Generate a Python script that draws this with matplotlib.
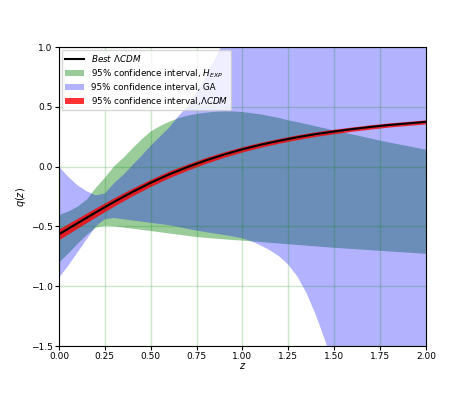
import numpy as np
import matplotlib.pyplot as plt

# redshift grid for the confidence bands (every 0.05)
z_band = np.round(np.arange(0, 2.0001, 0.05), 2)

# 95% CI from H_EXP
hexp_hi = [-0.40, -0.37, -0.33, -0.27, -0.17, -0.085, 0.01, 0.08, 0.16, 0.235,
           0.30, 0.345, 0.38, 0.41, 0.43, 0.445, 0.455, 0.463, 0.467, 0.465,
           0.46, 0.45, 0.44, 0.425, 0.41, 0.39, 0.375, 0.358, 0.34, 0.323,
           0.305, 0.288, 0.272, 0.255, 0.238, 0.22, 0.205, 0.19, 0.175, 0.16,
           0.145]
hexp_lo = [-0.795, -0.72, -0.64, -0.565, -0.505, -0.49, -0.495, -0.505, -0.515, -0.525,
           -0.535, -0.545, -0.555, -0.565, -0.575, -0.585, -0.592, -0.598, -0.604, -0.61,
           -0.615, -0.621, -0.627, -0.633, -0.639, -0.645, -0.651, -0.657, -0.663, -0.669,
           -0.675, -0.68, -0.685, -0.69, -0.695, -0.70, -0.705, -0.71, -0.715, -0.72,
           -0.725]

# 95% CI from GA
ga_hi = [0.0, -0.085, -0.155, -0.205, -0.24, -0.225, -0.14, -0.07, 0.01, 0.09,
         0.175, 0.25, 0.325, 0.42, 0.50, 0.62, 0.75, 0.90, 1.05, 1.2,
         1.35, 1.5, 1.65, 1.8, 1.95, 2.1, 2.25, 2.4, 2.55, 2.7,
         2.85, 3.0, 3.15, 3.3, 3.45, 3.6, 3.75, 3.9, 4.05, 4.2,
         4.35]
ga_lo = [-0.93, -0.83, -0.72, -0.61, -0.50, -0.44, -0.43, -0.44, -0.45, -0.46,
         -0.47, -0.48, -0.49, -0.505, -0.52, -0.535, -0.548, -0.56, -0.572, -0.585,
         -0.60, -0.625, -0.66, -0.70, -0.75, -0.82, -0.92, -1.06, -1.24, -1.45,
         -1.70, -1.98, -2.3, -2.65, -3.0, -3.4, -3.8, -4.2, -4.6, -5.0,
         -5.4]

# best LCDM and its 95% CI
z_lcdm = np.round(np.arange(0, 2.0001, 0.1), 1)
q_lcdm = [-0.565, -0.474, -0.383, -0.295, -0.212, -0.135, -0.065, -0.004, 0.052, 0.101,
          0.145, 0.183, 0.216, 0.246, 0.272, 0.294, 0.314, 0.332, 0.348, 0.361,
          0.374]
q_lcdm_err = [0.045, 0.041, 0.038, 0.035, 0.032, 0.030, 0.028, 0.026, 0.025, 0.023,
              0.022, 0.021, 0.020, 0.020, 0.019, 0.019, 0.018, 0.018, 0.017, 0.017,
              0.017]

q_lcdm = np.array(q_lcdm)
q_lcdm_err = np.array(q_lcdm_err)

fig = plt.figure(figsize=(4.74, 3.95), dpi=100)
ax = fig.add_axes([0.1245, 0.124, 0.774, 0.757])

ax.plot(z_lcdm, q_lcdm, color='black', lw=1.5, label=r'$Best\ \Lambda CDM$', zorder=3)
ax.fill_between(z_band, hexp_lo, hexp_hi, color='green', alpha=0.4, lw=0,
                label=r'95% confidence interval, $H_{EXP}$')
ax.fill_between(z_band, ga_lo, ga_hi, color='blue', alpha=0.3, lw=0,
                label='95% confidence interval, GA')
ax.fill_between(z_lcdm, q_lcdm - q_lcdm_err, q_lcdm + q_lcdm_err, color='red', alpha=0.8,
                lw=0, label=r'95% confidence interval,$\Lambda CDM$')

ax.set_xlim(0, 2)
ax.set_ylim(-1.5, 1.0)
ax.set_xticks(np.arange(0, 2.01, 0.25))
ax.set_yticks(np.arange(-1.5, 1.01, 0.5))
ax.grid(color='green', alpha=0.2, lw=1)
ax.tick_params(labelsize=6.5, length=3, width=0.8, pad=1.5)
ax.set_xlabel(r'$z$', fontsize=7, labelpad=0)
ax.set_ylabel(r'$q(z)$', fontsize=7, labelpad=2)
ax.legend(loc='upper left', fontsize=6.3, borderaxespad=0.3, labelspacing=0.35,
          handlelength=2.1)

fig.savefig('out.png', dpi=100)
